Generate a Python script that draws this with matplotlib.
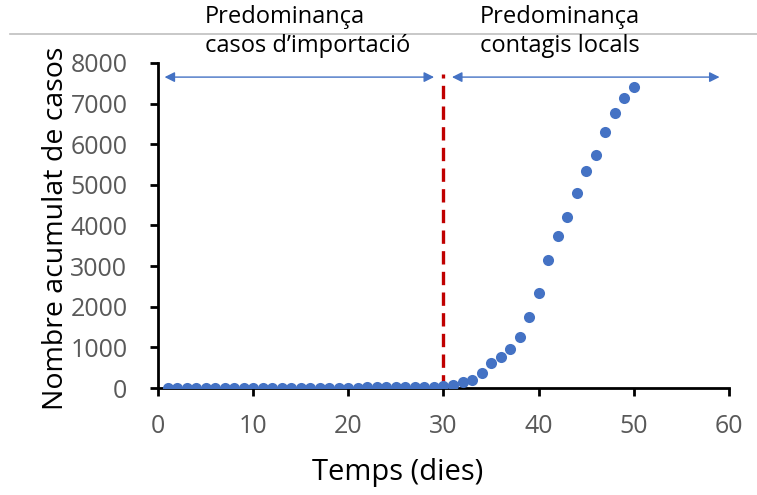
import matplotlib
matplotlib.use('Agg')
import matplotlib.pyplot as plt
from matplotlib.lines import Line2D

# days since first case and cumulative cases
days = list(range(1, 51))
cases = [0, 0, 0, 0, 1, 1, 1, 2, 2, 3,
         3, 4, 4, 5, 6, 7, 8, 9, 10, 12,
         14, 16, 18, 20, 22, 25, 28, 32, 38, 50,
         80, 140, 205, 360, 615, 755, 960, 1265, 1755, 2330,
         3150, 3735, 4205, 4795, 5330, 5745, 6300, 6775, 7135, 7405]

split_day = 30
x_ticks = [0, 10, 20, 30, 40, 50, 60]
y_ticks = [0, 1000, 2000, 3000, 4000, 5000, 6000, 7000, 8000]
label_left = 'Predominança\ncasos d\u2019importació'
label_right = 'Predominança\ncontagis locals'

blue = '#4472C4'
red = '#C00000'
grey = '#595959'

plt.rcParams['font.family'] = ['Open Sans', 'DejaVu Sans']

fig = plt.figure(figsize=(7.57, 4.95), dpi=100)
ax = fig.add_axes([0.2087, 0.216, 0.7543, 0.657])

ax.plot(days, cases, 'o', color=blue, markersize=8, markeredgewidth=0, zorder=3)

# split line
ax.vlines(split_day, 0, 7720, colors=red, linestyles=(0, (4, 2.2)), linewidth=2.4, zorder=2)

# range arrows
arrow_y = 7650
ax.annotate('', xy=(0.4, arrow_y), xytext=(29.3, arrow_y),
            arrowprops=dict(arrowstyle='<|-|>', color=blue, lw=1.0, mutation_scale=15))
ax.annotate('', xy=(30.6, arrow_y), xytext=(59.3, arrow_y),
            arrowprops=dict(arrowstyle='<|-|>', color=blue, lw=1.0, mutation_scale=15))

ax.set_xlim(0, 60)
ax.set_ylim(0, 8000)
ax.set_xticks(x_ticks)
ax.set_yticks(y_ticks)
ax.tick_params(axis='both', colors='black', labelcolor=grey, labelsize=18,
               width=2, length=6, direction='out')
ax.tick_params(axis='y', pad=16)
ax.tick_params(axis='x', pad=13)

for s in ['top', 'right']:
    ax.spines[s].set_visible(False)
for s in ['left', 'bottom']:
    ax.spines[s].set_linewidth(2)
ax.spines['bottom'].set_zorder(1)

ax.set_xlabel('Temps (dies)', fontsize=21)
ax.set_ylabel('Nombre acumulat de casos', fontsize=20.5)
ax.xaxis.set_label_coords(0.42, -0.215)
ax.yaxis.set_label_coords(-0.154, 0.49)

fig.text(0.271, 0.99, label_left, fontsize=17, va='top', ha='left', linespacing=1.3)
fig.text(0.634, 0.99, label_right, fontsize=17, va='top', ha='left', linespacing=1.3)

# thin grey rule across the top
fig.add_artist(Line2D([0.013, 1.0], [0.931, 0.931], color='#BFBFBF', lw=1.2,
                      transform=fig.transFigure))

fig.savefig('out.png', dpi=100)
